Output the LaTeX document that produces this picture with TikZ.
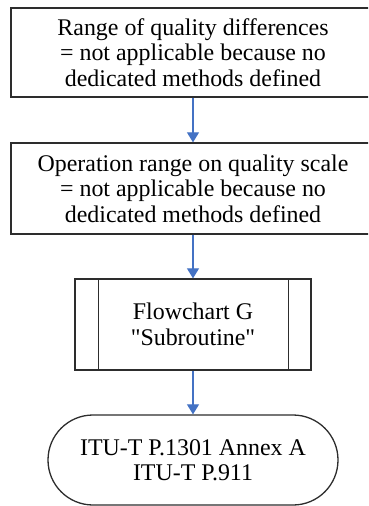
\documentclass[tikz,border=0pt]{standalone}
\usepackage{fontspec}
\setmainfont{Liberation Serif}
\newfontfamily\rawserif{Liberation Serif}
\usetikzlibrary{arrows.meta}
\definecolor{arrowblue}{RGB}{68,114,196}
\definecolor{edge}{RGB}{45,45,45}
\tikzset{
  procbox/.style={draw=edge, line width=1.3bp, align=center, inner sep=0pt,
    font=\fontsize{24}{25.5}\selectfont},
  termbox/.style={procbox, rounded corners=45bp},
  flow/.style={draw=arrowblue, line width=1.1bp, -{Triangle[width=12bp,length=10bp]}}
}
\begin{document}
\begin{tikzpicture}[x=1bp,y=-1bp]
\useasboundingbox (0,0) rectangle (368,506);
\clip (0,0) rectangle (368,506);
\node[procbox, minimum width=364bp, minimum height=89bp] (b1) at (193,52.5)
  {Range of quality differences\\= not applicable because no\\dedicated methods defined};
\node[procbox, minimum width=364bp, minimum height=91bp] (b2) at (193,188.5)
  {Operation range on quality scale\\= not applicable because no\\dedicated methods defined};
\node[procbox, minimum width=236bp, minimum height=91bp] (sub) at (193,324.5)
  {Flowchart G\\{\rawserif"Subroutine"}};
\draw[edge, line width=1.3bp] ([xshift=24bp]sub.north west) -- ([xshift=24bp]sub.south west);
\draw[edge, line width=1.3bp] ([xshift=-23bp]sub.north east) -- ([xshift=-23bp]sub.south east);
\node[termbox, minimum width=290bp, minimum height=90bp] (term) at (193,460)
  {ITU-T P.1301 Annex A\\ITU-T P.911};
\draw[flow] (b1.south) -- (b2.north);
\draw[flow] (b2.south) -- (sub.north);
\draw[flow] (sub.south) -- (term.north);
\end{tikzpicture}
\end{document}
